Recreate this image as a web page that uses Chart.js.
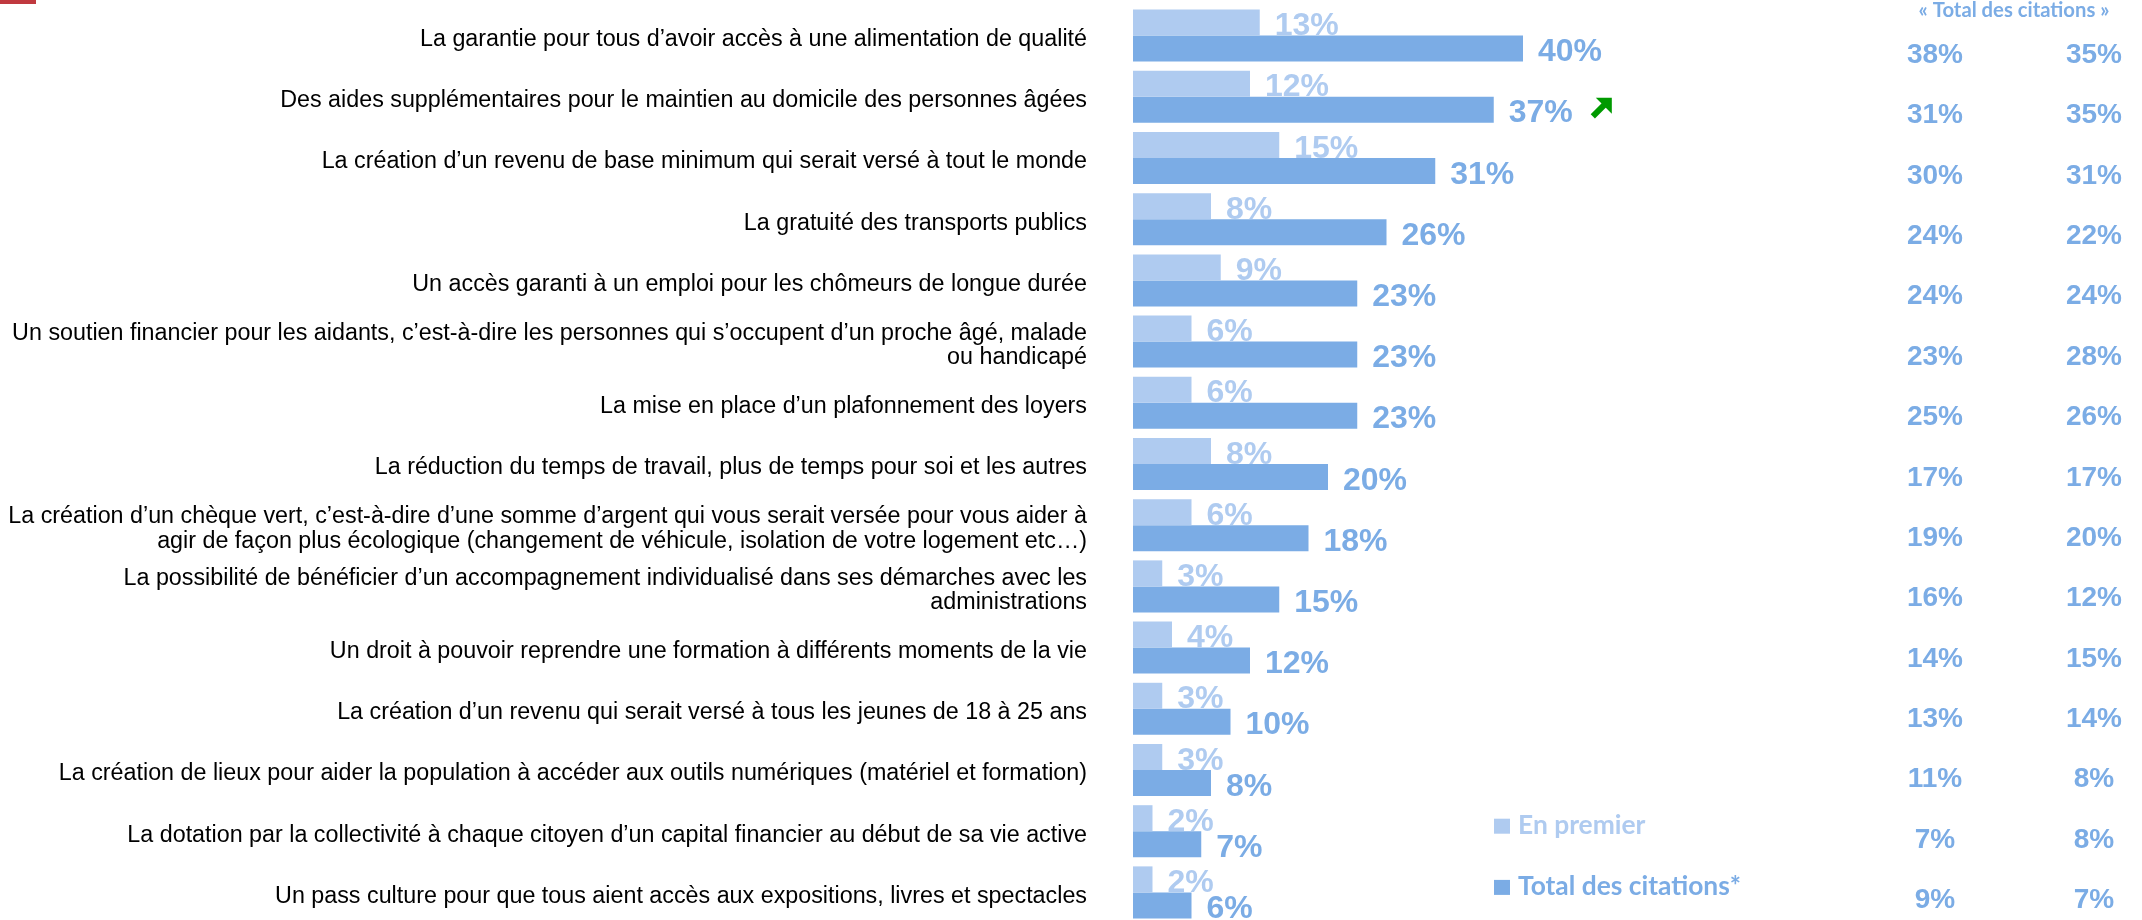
<!DOCTYPE html>
<html>
<head>
<meta charset="utf-8">
<script src="https://cdn.jsdelivr.net/npm/chart.js@4.4.1/dist/chart.umd.min.js"></script>
<style>
  html, body { margin: 0; padding: 0; background: #fff; overflow: hidden; }
  #wrap { position: relative; width: 2142px; height: 920px; overflow: hidden; }
  #mark { position: absolute; left: 0; top: 0; width: 36px; height: 4px; background: #c0393f; }
</style>
</head>
<body>
<div id="wrap">
  <canvas id="chart" width="2142" height="926"></canvas>
  <div id="mark"></div>
</div>
<script>
// --- Data ---
const labels = [
    'La garantie pour tous d’avoir accès à une alimentation de qualité',
    'Des aides supplémentaires pour le maintien au domicile des personnes âgées',
    'La création d’un revenu de base minimum qui serait versé à tout le monde',
    'La gratuité des transports publics',
    'Un accès garanti à un emploi pour les chômeurs de longue durée',
    ['Un soutien financier pour les aidants, c’est-à-dire les personnes qui s’occupent d’un proche âgé, malade', 'ou handicapé'],
    'La mise en place d’un plafonnement des loyers',
    'La réduction du temps de travail, plus de temps pour soi et les autres',
    ['La création d’un chèque vert, c’est-à-dire d’une somme d’argent qui vous serait versée pour vous aider à', 'agir de façon plus écologique (changement de véhicule, isolation de votre logement etc…)'],
    ['La possibilité de bénéficier d’un accompagnement individualisé dans ses démarches avec les', 'administrations'],
    'Un droit à pouvoir reprendre une formation à différents moments de la vie',
    'La création d’un revenu qui serait versé à tous les jeunes de 18 à 25 ans',
    'La création de lieux pour aider la population à accéder aux outils numériques (matériel et formation)',
    'La dotation par la collectivité à chaque citoyen d’un capital financier au début de sa vie active',
    'Un pass culture pour que tous aient accès aux expositions, livres et spectacles'
];
const firstValues = [13, 12, 15, 8, 9, 6, 6, 8, 6, 3, 4, 3, 3, 2, 2];
const totalValues = [40, 37, 31, 26, 23, 23, 23, 20, 18, 15, 12, 10, 8, 7, 6];
const totalColA = [38, 31, 30, 24, 24, 23, 25, 17, 19, 16, 14, 13, 11, 7, 9];
const totalColB = [35, 35, 31, 22, 24, 28, 26, 17, 20, 12, 15, 14, 8, 8, 7];
const seriesNames = ['En premier', 'Total des citations*'];
const columnHeader = '« Total des citations »';
const risingRows = [1]; // rows flagged with the green arrow

// --- Styles ---
const LIGHT = '#afcbf0';
const DARK = '#7bace5';
const ARIAL = '"Liberation Sans", Arial, sans-serif';
const CALIBRI = 'Lato, "Open Sans", sans-serif';

const fitSize = (ctx, text, width, family) => {
    ctx.font = `bold 100px ${family}`;
    return 100 * width / ctx.measureText(text).width;
};

const drawArrow = (ctx, x, cy) => {
    const t = cy - 10;
    ctx.fillStyle = '#009a00';
    ctx.beginPath();
    ctx.moveTo(x + 5, t);
    ctx.lineTo(x + 21, t);
    ctx.lineTo(x + 21, t + 16);
    ctx.closePath();
    ctx.fill();
    ctx.strokeStyle = '#009a00';
    ctx.lineWidth = 6;
    ctx.beginPath();
    ctx.moveTo(x + 2, t + 18.5);
    ctx.lineTo(x + 15, t + 5.5);
    ctx.stroke();
};

// --- Labels, columns, legend ---
const overlay = {
    id: 'overlay',
    afterDatasetsDraw(chart) {
        const ctx = chart.ctx;
        const yScale = chart.scales.y;
        ctx.save();

        // 1. Value labels next to bars
        ctx.font = `bold 32px ${ARIAL}`;
        ctx.textAlign = 'left';
        ctx.textBaseline = 'alphabetic';
        chart.data.datasets.forEach((ds, di) => {
            const meta = chart.getDatasetMeta(di);
            meta.data.forEach((bar, i) => {
                const txt = ds.data[i] + '%';
                const bx = bar.x + 15;
                ctx.fillStyle = ds.backgroundColor;
                ctx.fillText(txt, bx, bar.y + bar.height / 2 - 0.5);
                if (di === 1 && risingRows.includes(i)) {
                    drawArrow(ctx, bx + ctx.measureText(txt).width + 18, bar.y - 2);
                    ctx.font = `bold 32px ${ARIAL}`;
                }
            });
        });

        // 2. Right-hand columns
        ctx.fillStyle = DARK;
        ctx.textAlign = 'center';
        ctx.font = `bold 28px ${ARIAL}`;
        totalColA.forEach((v, i) => {
            const by = 63 + i * 60.36;
            ctx.fillText(v + '%', 1935, by);
            ctx.fillText(totalColB[i] + '%', 2094, by);
        });
        ctx.font = `bold ${fitSize(ctx, columnHeader, 191, CALIBRI)}px ${CALIBRI}`;
        ctx.fillText(columnHeader, 2014, 17);

        // 3. Legend
        const legendSize = fitSize(ctx, seriesNames[1], 223, CALIBRI);
        ctx.textAlign = 'left';
        chart.data.datasets.forEach((ds, di) => {
            const base = yScale.getPixelForValue(13 + di) + 2.5;
            ctx.fillStyle = ds.backgroundColor;
            ctx.fillRect(1494, base - 15, 16, 15);
            ctx.font = `bold ${legendSize}px ${CALIBRI}`;
            ctx.fillText(ds.label, 1518, base);
        });

        ctx.restore();
    }
};

new Chart(document.getElementById('chart'), {
    type: 'bar',
    data: {
        labels: labels,
        datasets: [
            { label: seriesNames[0], data: firstValues, backgroundColor: LIGHT },
            { label: seriesNames[1], data: totalValues, backgroundColor: DARK }
        ]
    },
    options: {
        indexAxis: 'y',
        responsive: false,
        animation: false,
        events: [],
        categoryPercentage: 0.85,
        barPercentage: 1.0,
        borderWidth: 0,
        layout: { padding: { top: 5, bottom: 3, left: 0, right: 34 } },
        plugins: {
            legend: { display: false },
            tooltip: { enabled: false }
        },
        scales: {
            x: { display: false, min: 0, max: 100 },
            y: {
                grid: { display: false, drawTicks: false },
                border: { display: false },
                afterFit: (scale) => {
                    scale.width = 1133;
                    // tick padding would otherwise be added above and below the axis
                    scale.paddingTop = 0;
                    scale.paddingBottom = 0;
                },
                ticks: {
                    autoSkip: false,
                    padding: 46,
                    labelOffset: 4,
                    color: '#000',
                    font: { family: ARIAL, size: 23.3, lineHeight: 1.056 }
                }
            }
        }
    },
    plugins: [overlay]
});
</script>
</body>
</html>
